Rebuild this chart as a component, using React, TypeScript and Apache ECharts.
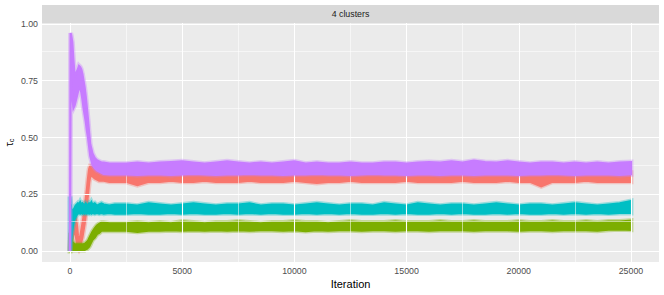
import React, { useEffect, useRef } from "react";
import * as echarts from "echarts";

const iterations = [
  0, 25, 50, 100, 150, 200, 250, 300, 350, 400, 450, 500, 550, 600, 650, 700, 750, 800, 850, 900, 950, 1000, 1100, 1200, 1300, 1400, 1500, 1750, 2000,
  2500, 3000, 3500, 4000, 4500, 5000, 5500, 6000, 6500, 7000,
  7500, 8000, 8500, 9000, 9500, 10000, 10500, 11000, 11500, 12000,
  12500, 13000, 13500, 14000, 14500, 15000, 15500, 16000, 16500, 17000,
  17500, 18000, 18500, 19000, 19500, 20000, 20500, 21000, 21500, 22000,
  22500, 23000, 23500, 24000, 24500, 25000,
];

const clusterNames = ["1", "2", "3", "4"];
const xTicks = [0, 5000, 10000, 15000, 20000, 25000];
const xMinor = [2500, 7500, 12500, 17500, 22500];
const yTicks = [0, 0.25, 0.5, 0.75, 1.0];
const yMinor = [0.125, 0.375, 0.625, 0.875];
const panelTitle = "4 clusters";

// cluster 1 (red)
const redLo = [
  0.0, 0.01, 0.02, 0.05, 0.08, 0.08, 0.07, 0.04, 0.02, 0.01, 0.02, 0.04, 0.06, 0.09, 0.12, 0.16, 0.2, 0.25, 0.3, 0.33, 0.33, 0.33, 0.32, 0.315, 0.31, 0.31, 0.31, 0.305, 0.305,
  0.305, 0.29, 0.305, 0.305, 0.31, 0.305, 0.305, 0.31, 0.305, 0.305,
  0.305, 0.31, 0.305, 0.305, 0.305, 0.31, 0.305, 0.3, 0.305, 0.305,
  0.31, 0.305, 0.305, 0.305, 0.305, 0.31, 0.305, 0.305, 0.305, 0.305,
  0.31, 0.305, 0.305, 0.305, 0.31, 0.305, 0.305, 0.285, 0.305, 0.305,
  0.305, 0.31, 0.305, 0.305, 0.305, 0.305,
];
const redHi = [
  0.01, 0.06, 0.09, 0.12, 0.14, 0.14, 0.15, 0.12, 0.07, 0.04, 0.06, 0.09, 0.12, 0.15, 0.19, 0.23, 0.27, 0.32, 0.36, 0.375, 0.375, 0.37, 0.36, 0.355, 0.35, 0.35, 0.345, 0.345, 0.345,
  0.345, 0.345, 0.35, 0.345, 0.345, 0.35, 0.345, 0.345, 0.345, 0.35,
  0.345, 0.345, 0.345, 0.35, 0.345, 0.345, 0.345, 0.345, 0.35, 0.345,
  0.345, 0.345, 0.35, 0.345, 0.345, 0.345, 0.35, 0.345, 0.345, 0.345,
  0.35, 0.345, 0.345, 0.345, 0.35, 0.345, 0.345, 0.345, 0.345, 0.35,
  0.345, 0.345, 0.345, 0.35, 0.345, 0.345,
];

// cluster 2 (green)
const greenLo = [
  0.0, 0.0, 0.0, 0.005, 0.005, 0.005, 0.005, 0.005, 0.005, 0.005, 0.005, 0.005, 0.005, 0.005, 0.005, 0.008, 0.01, 0.015, 0.02, 0.03, 0.04, 0.05, 0.06, 0.075, 0.08, 0.09, 0.09, 0.09, 0.09,
  0.09, 0.085, 0.09, 0.09, 0.092, 0.09, 0.092, 0.09, 0.092, 0.09,
  0.092, 0.09, 0.092, 0.092, 0.09, 0.092, 0.088, 0.092, 0.09, 0.092,
  0.092, 0.09, 0.092, 0.092, 0.09, 0.092, 0.092, 0.09, 0.092, 0.092,
  0.092, 0.09, 0.092, 0.092, 0.092, 0.09, 0.092, 0.092, 0.09, 0.092,
  0.092, 0.092, 0.09, 0.094, 0.096, 0.094,
];
const greenHi = [
  0.02, 0.08, 0.06, 0.04, 0.035, 0.03, 0.03, 0.03, 0.03, 0.03, 0.03, 0.03, 0.03, 0.03, 0.032, 0.035, 0.04, 0.045, 0.055, 0.065, 0.075, 0.085, 0.1, 0.112, 0.12, 0.125, 0.125, 0.122, 0.122,
  0.122, 0.126, 0.122, 0.126, 0.122, 0.13, 0.126, 0.122, 0.126, 0.126,
  0.13, 0.126, 0.122, 0.126, 0.126, 0.13, 0.126, 0.126, 0.122, 0.126,
  0.13, 0.126, 0.126, 0.126, 0.13, 0.126, 0.126, 0.126, 0.13, 0.126,
  0.126, 0.13, 0.126, 0.126, 0.126, 0.13, 0.126, 0.126, 0.13, 0.126,
  0.126, 0.13, 0.126, 0.13, 0.13, 0.134,
];

// cluster 3 (cyan)
const cyanLo = [
  0.0, 0.02, 0.05, 0.09, 0.12, 0.14, 0.15, 0.16, 0.165, 0.168, 0.165, 0.168, 0.165, 0.168, 0.165, 0.168, 0.165, 0.168, 0.165, 0.168, 0.165, 0.168, 0.165, 0.168, 0.165, 0.168, 0.165, 0.168, 0.165,
  0.165, 0.168, 0.165, 0.165, 0.168, 0.165, 0.168, 0.165, 0.165, 0.168,
  0.165, 0.168, 0.165, 0.168, 0.165, 0.165, 0.168, 0.165, 0.168, 0.165,
  0.168, 0.165, 0.165, 0.168, 0.165, 0.168, 0.165, 0.165, 0.168, 0.165,
  0.168, 0.165, 0.165, 0.168, 0.165, 0.168, 0.165, 0.165, 0.168, 0.165,
  0.168, 0.165, 0.168, 0.165, 0.168, 0.168,
];
const cyanHi = [
  0.24, 0.21, 0.19, 0.17, 0.18, 0.19, 0.2, 0.205, 0.21, 0.205, 0.215, 0.205, 0.21, 0.205, 0.2, 0.21, 0.205, 0.2, 0.21, 0.205, 0.215, 0.205, 0.21, 0.2, 0.205, 0.21, 0.205, 0.2, 0.205,
  0.205, 0.2, 0.21, 0.205, 0.2, 0.205, 0.21, 0.205, 0.2, 0.205,
  0.205, 0.21, 0.2, 0.205, 0.205, 0.2, 0.205, 0.21, 0.205, 0.2,
  0.205, 0.205, 0.2, 0.21, 0.205, 0.2, 0.21, 0.205, 0.2, 0.205,
  0.205, 0.2, 0.205, 0.21, 0.205, 0.2, 0.205, 0.205, 0.2, 0.205,
  0.21, 0.205, 0.2, 0.205, 0.21, 0.22,
];

// cluster 4 (purple)
const purpleLo = [
  0.0, 0.8, 0.74, 0.68, 0.63, 0.64, 0.66, 0.68, 0.7, 0.72, 0.72, 0.7, 0.67, 0.63, 0.6, 0.57, 0.53, 0.5, 0.46, 0.42, 0.4, 0.38, 0.365, 0.355, 0.35, 0.345, 0.34, 0.338, 0.338,
  0.338, 0.335, 0.338, 0.338, 0.335, 0.338, 0.34, 0.338, 0.335, 0.338,
  0.338, 0.34, 0.338, 0.338, 0.335, 0.338, 0.338, 0.34, 0.338, 0.338,
  0.335, 0.338, 0.34, 0.338, 0.338, 0.335, 0.338, 0.338, 0.335, 0.338,
  0.338, 0.335, 0.338, 0.338, 0.338, 0.335, 0.338, 0.338, 0.34, 0.338,
  0.335, 0.338, 0.338, 0.338, 0.335, 0.338,
];
const purpleHi = [
  0.02, 0.96, 0.95, 0.92, 0.84, 0.78, 0.77, 0.79, 0.8, 0.815, 0.81, 0.8, 0.78, 0.75, 0.72, 0.68, 0.63, 0.58, 0.52, 0.47, 0.45, 0.43, 0.41, 0.4, 0.395, 0.39, 0.39, 0.385, 0.385,
  0.385, 0.39, 0.385, 0.39, 0.392, 0.395, 0.39, 0.385, 0.39, 0.395,
  0.39, 0.385, 0.39, 0.385, 0.39, 0.395, 0.385, 0.39, 0.385, 0.385,
  0.39, 0.385, 0.385, 0.39, 0.39, 0.385, 0.39, 0.392, 0.39, 0.395,
  0.39, 0.398, 0.392, 0.39, 0.395, 0.39, 0.385, 0.39, 0.39, 0.385,
  0.39, 0.385, 0.39, 0.385, 0.39, 0.392,
];

const clusters = [
  { name: clusterNames[0], color: "#F8766D", lo: redLo, hi: redHi },
  { name: clusterNames[1], color: "#7CAE00", lo: greenLo, hi: greenHi },
  { name: clusterNames[2], color: "#00BFC4", lo: cyanLo, hi: cyanHi },
  { name: clusterNames[3], color: "#C77CFF", lo: purpleLo, hi: purpleHi },
];

const FONT = "Liberation Sans, Arial, sans-serif";

export default function App() {
  const ref = useRef<HTMLDivElement>(null);

  useEffect(() => {
    if (!ref.current) return;
    const chart = echarts.init(ref.current, undefined, { renderer: "svg" });

    const series: any[] = [];
    // grid lines (minor and major) drawn through the axes' scales
    series.push({
      type: "line",
      data: [],
      z: 1,
      silent: true,
      markLine: {
        silent: true,
        symbol: "none",
        animation: false,
        label: { show: false },
        lineStyle: { color: "#FFFFFF", width: 0.55, type: "solid" },
        data: [...xMinor.map((v) => ({ xAxis: v })), ...yMinor.map((v) => ({ yAxis: v }))],
      },
    });
    series.push({
      type: "line",
      data: [],
      z: 1,
      silent: true,
      markLine: {
        silent: true,
        symbol: "none",
        animation: false,
        label: { show: false },
        lineStyle: { color: "#FFFFFF", width: 1.1, type: "solid" },
        data: [...xTicks.map((v) => ({ xAxis: v })), ...yTicks.map((v) => ({ yAxis: v }))],
      },
    });

    clusters.forEach((c, k) => {
      series.push({
        type: "custom",
        name: c.name,
        z: 2 + k,
        silent: true,
        coordinateSystem: "cartesian2d",
        data: [[iterations[0], c.lo[0]]],
        encode: { x: 0, y: 1 },
        renderItem: (params: any, api: any) => {
          const upper = iterations.map((x, i) => api.coord([x, c.hi[i]]));
          const lower = iterations.map((x, i) => api.coord([x, c.lo[i]])).reverse();
          const pts = upper.concat(lower);
          return {
            type: "group",
            children: [
              {
                type: "polygon",
                shape: { points: pts },
                style: { fill: "none", stroke: c.color, lineWidth: 5, opacity: 0.35 },
              },
              {
                type: "polygon",
                shape: { points: pts },
                style: { fill: c.color, stroke: c.color, lineWidth: 2.2 },
              },
            ],
          };
        },
      });
    });

    chart.setOption({
      animation: false,
      backgroundColor: "#FFFFFF",
      grid: {
        left: 42,
        right: 5,
        top: 23,
        bottom: 33,
        show: true,
        backgroundColor: "#EBEBEB",
        borderWidth: 0,
        containLabel: false,
        outerBoundsMode: "none",
      },
      graphic: [
        {
          type: "rect",
          shape: { x: 42, y: 5, width: 617, height: 18 },
          style: { fill: "#D9D9D9" },
        },
        {
          type: "text",
          x: 350.5,
          y: 14,
          style: {
            text: panelTitle,
            fill: "#1A1A1A",
            font: `8.8px ${FONT}`,
            textAlign: "center",
            textVerticalAlign: "middle",
          },
        },
      ],
      xAxis: {
        type: "value",
        min: -1250,
        max: 26250,
        name: "Iteration",
        nameLocation: "middle",
        nameGap: 16,
        nameMoveOverlap: false,
        nameTextStyle: { color: "#000000", fontSize: 11, fontFamily: FONT },
        axisLine: { show: false },
        axisTick: {
          show: true,
          length: 3,
          lineStyle: { color: "#333333", width: 1 },
          customValues: xTicks,
        },
        axisLabel: {
          color: "#4D4D4D",
          fontSize: 8.8,
          fontFamily: FONT,
          margin: 4,
          customValues: xTicks,
          formatter: (v: number) => String(v),
        },
        splitLine: { show: false },
      },
      yAxis: {
        type: "value",
        min: -0.048,
        max: 1.004,
        name: "{t|τ}{s|c}",
        nameLocation: "middle",
        nameGap: 27,
        nameRotate: 90,
        nameMoveOverlap: false,
        nameTextStyle: {
          color: "#000000",
          fontFamily: FONT,
          rich: {
            t: { fontSize: 11, fontFamily: FONT, color: "#000000" },
            s: { fontSize: 7.5, fontFamily: FONT, color: "#000000", verticalAlign: "bottom", padding: [5, 0, 0, 0] },
          },
        },
        axisLine: { show: false },
        axisTick: {
          show: true,
          length: 3,
          lineStyle: { color: "#333333", width: 1 },
          customValues: yTicks,
        },
        axisLabel: {
          color: "#4D4D4D",
          fontSize: 8.8,
          fontFamily: FONT,
          margin: 4,
          customValues: yTicks,
          formatter: (v: number) => v.toFixed(2),
        },
        splitLine: { show: false },
      },
      series,
    });

    return () => chart.dispose();
  }, []);

  return <div ref={ref} style={{ width: 664, height: 295, position: "absolute", left: 0, top: 0 }} />;
}
